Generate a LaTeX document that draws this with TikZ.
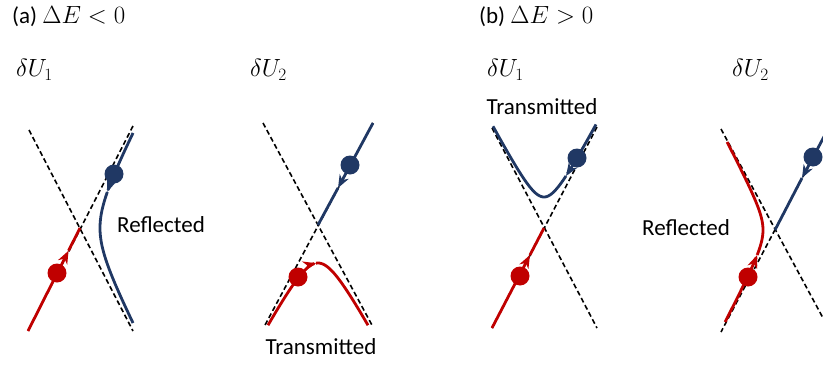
\documentclass[tikz,border=0pt]{standalone}
\usepackage{fontspec}
\setmainfont{Carlito}
\usetikzlibrary{arrows.meta,calc}
\definecolor{navyline}{RGB}{32,56,100}
\definecolor{redline}{RGB}{192,0,0}

\begin{document}
\begin{tikzpicture}[x=1pt, y=-1pt,
  asym/.style={black, line width=1.6pt, dash pattern=on 5pt off 3pt},
  redpath/.style={redline, line width=2.8pt},
  bluepath/.style={navyline, line width=2.8pt},
  headarrow/.style={-{Stealth[length=13pt,width=10pt,inset=4pt]}},
  reddot/.style={circle, fill=redline, minimum size=19pt, inner sep=0pt},
  bluedot/.style={circle, fill=navyline, minimum size=19pt, inner sep=0pt},
  lbl/.style={font=\fontsize{23}{27}\selectfont, inner sep=0pt}]
\useasboundingbox (0,0) rectangle (823,367);
\clip (0,0) rectangle (823,367);

% titles
\node[lbl, anchor=west] (titlea) at (12,17) {(a) $\Delta E < 0$};
\node[lbl, anchor=west] (titleb) at (479,17) {(b) $\Delta E > 0$};
\node[lbl, anchor=west] (ua1) at (16,70) {$\delta U_1$};
\node[lbl, anchor=west] (ua2) at (250,70) {$\delta U_2$};
\node[lbl, anchor=west] (ub1) at (487,70) {$\delta U_1$};
\node[lbl, anchor=west] (ub2) at (732,70) {$\delta U_2$};

% (a) dU1
\coordinate (X1) at (80,228);
\coordinate (A1nw) at (29,130); \coordinate (A1se) at (133,331);
\coordinate (A1ne) at (133,126); \coordinate (A1sw) at (28,331);
\draw[asym] (A1nw) -- (A1se);
\draw[asym] (A1ne) -- (A1sw);
\coordinate (rt1) at ($(A1sw)!0.78!(X1)$);
\draw[redpath, headarrow] (A1sw) -- (rt1);
\draw[redpath] (rt1) -- (X1);
\draw[bluepath, headarrow] plot[domain=-95:-36, samples=30] ({80+sqrt(400+0.2673*\x*\x)}, {228+\x});
\draw[bluepath] plot[domain=-36:95, samples=60] ({80+sqrt(400+0.2673*\x*\x)}, {228+\x});
\node[reddot] (rd1) at (57,273) {};
\node[bluedot] (bd1) at (114,174) {};
\node[lbl] (refla) at (161,225) {Reflected};

% (a) dU2
\coordinate (X2) at (318,225);
\coordinate (A2nw) at (263,123); \coordinate (A2se) at (373,327);
\coordinate (A2ne) at (373,123); \coordinate (A2sw) at (264,327);
\draw[asym] (A2nw) -- (A2se);
\draw[asym] (A2ne) -- (A2sw);
\coordinate (bt2) at (338,188);
\draw[bluepath, headarrow] (A2ne) -- (bt2);
\draw[bluepath] (bt2) -- (X2);
\draw[redpath, headarrow] plot[domain=-50:-2, samples=30] ({318+\x}, {225+sqrt(1444+3.441*\x*\x)});
\draw[redpath] plot[domain=-2:50, samples=30] ({318+\x}, {225+sqrt(1444+3.441*\x*\x)});
\node[bluedot] (bd2) at (350,165) {};
\node[reddot] (rd2) at (298,277) {};
\node[lbl] (transa) at (321,347) {Transmitted};

% (b) dU1
\coordinate (X3) at (544,228);
\coordinate (B1nw) at (492,128); \coordinate (B1se) at (597,328);
\coordinate (B1ne) at (597,127); \coordinate (B1sw) at (492,328);
\draw[asym] (B1nw) -- (B1se);
\draw[asym] (B1ne) -- (B1sw);
\coordinate (rt3) at ($(B1sw)!0.73!(X3)$);
\draw[redpath, headarrow] (B1sw) -- (rt3);
\draw[redpath] (rt3) -- (X3);
\draw[bluepath, headarrow] plot[domain=52:22, samples=20] ({544+\x}, {228-sqrt(961+3.61*\x*\x)});
\draw[bluepath] plot[domain=22:-51, samples=50] ({544+\x}, {228-sqrt(961+3.61*\x*\x)});
\node[reddot] (rd3) at (520,276) {};
\node[bluedot] (bd3) at (577,158) {};
\node[lbl] (transb) at (542,107) {Transmitted};

% (b) dU2
\coordinate (X4) at (775,230);
\coordinate (B2nw) at (721,129); \coordinate (B2se) at (823,318);
\coordinate (B2ne) at (835,116); \coordinate (B2sw) at (721,332);
\draw[asym] (B2nw) -- (B2se);
\draw[asym] (B2ne) -- (B2sw);
\coordinate (bt4) at (802,178);
\draw[bluepath, headarrow] (B2ne) -- (bt4);
\draw[bluepath] (bt4) -- (X4);
\draw[redpath, headarrow] plot[domain=92:25, samples=30] ({775-sqrt(144+0.2777*\x*\x)}, {230+\x});
\draw[redpath] plot[domain=25:-88, samples=50] ({775-sqrt(144+0.2777*\x*\x)}, {230+\x});
\node[reddot] (rd4) at (748,277) {};
\node[bluedot] (bd4) at (813,157) {};
\node[lbl] (reflb) at (686,228) {Reflected};
\end{tikzpicture}
\end{document}
